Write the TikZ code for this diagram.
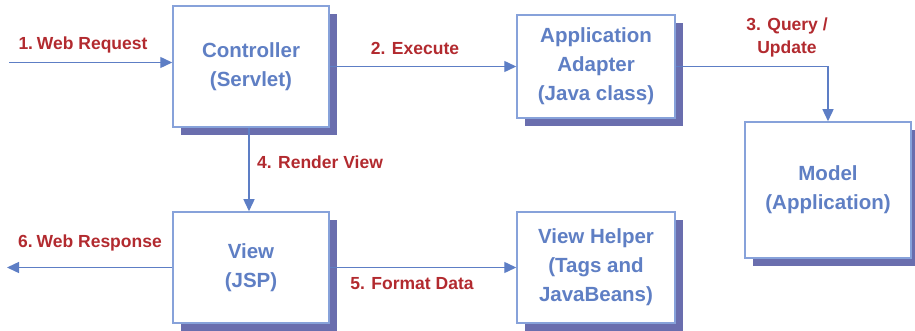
\documentclass[tikz,border=0pt]{standalone}
\usepackage{fontspec}
\setmainfont{Liberation Sans}
\usetikzlibrary{arrows.meta,shadows}
\definecolor{boxtext}{HTML}{5F7FC4}
\definecolor{boxline}{HTML}{87A2DA}
\definecolor{shadowc}{HTML}{6A6EAE}
\definecolor{lblred}{HTML}{B22A2F}
\definecolor{arrowc}{HTML}{5D7EC5}
\newcommand{\numgap}{\hspace{0.22em}}
\begin{document}
\begin{tikzpicture}[x=1pt,y=-1pt,
  mvcbox/.style={draw=boxline, line width=1.5pt, fill=white, inner sep=0pt,
    text=boxtext, align=center, font=\fontsize{20.5}{29}\selectfont\bfseries,
    general shadow={fill=shadowc, shadow xshift=8pt, shadow yshift=-8pt}},
  flow/.style={draw=arrowc, line width=1.4pt, -{Triangle[length=12pt,width=11pt]}},
  lbl/.style={text=lblred, align=center, font=\fontsize{17.5}{23}\selectfont\bfseries, inner sep=0pt}]
\useasboundingbox (0,0) rectangle (915,331);
\node[mvcbox, minimum width=156pt, minimum height=121pt] (ctrl) at (251,66.5) {Controller\\(Servlet)};
\node[mvcbox, minimum width=158pt, minimum height=103pt] (adapter) at (596,66.5) {Application\\Adapter\\(Java class)};
\node[mvcbox, minimum width=166pt, minimum height=136pt] (model) at (828,190) {Model\\(Application)};
\node[mvcbox, minimum width=156pt, minimum height=111pt] (view) at (251,267.5) {View\\(JSP)};
\node[mvcbox, minimum width=158pt, minimum height=111pt] (helper) at (596,267.5) {View Helper\\(Tags and\\JavaBeans)};
\coordinate (reqstart) at (9,62.5);
\coordinate (respend) at (7,267.5);
\draw[flow] (reqstart) -- (reqstart -| ctrl.west);
\draw[flow] (ctrl.east) -- (adapter.west);
\draw[flow] (adapter.east) -| (model.north);
\draw[flow] ([xshift=-2pt]ctrl.south) -- ([xshift=-2pt]view.north);
\draw[flow] (view.east) -- (helper.west);
\draw[flow] (view.west) -- (respend);
\node[lbl] (l1) at (83,45) {1.\numgap Web Request};
\node[lbl] (l2) at (415,48) {2. Execute};
\node[lbl] (l3) at (787,37) {3. Query /\\Update};
\node[lbl] (l4) at (320,162) {4. Render View};
\node[lbl] (l5) at (412,284) {5. Format Data};
\node[lbl] (l6) at (90,243) {6.\numgap Web Response};
\end{tikzpicture}
\end{document}
